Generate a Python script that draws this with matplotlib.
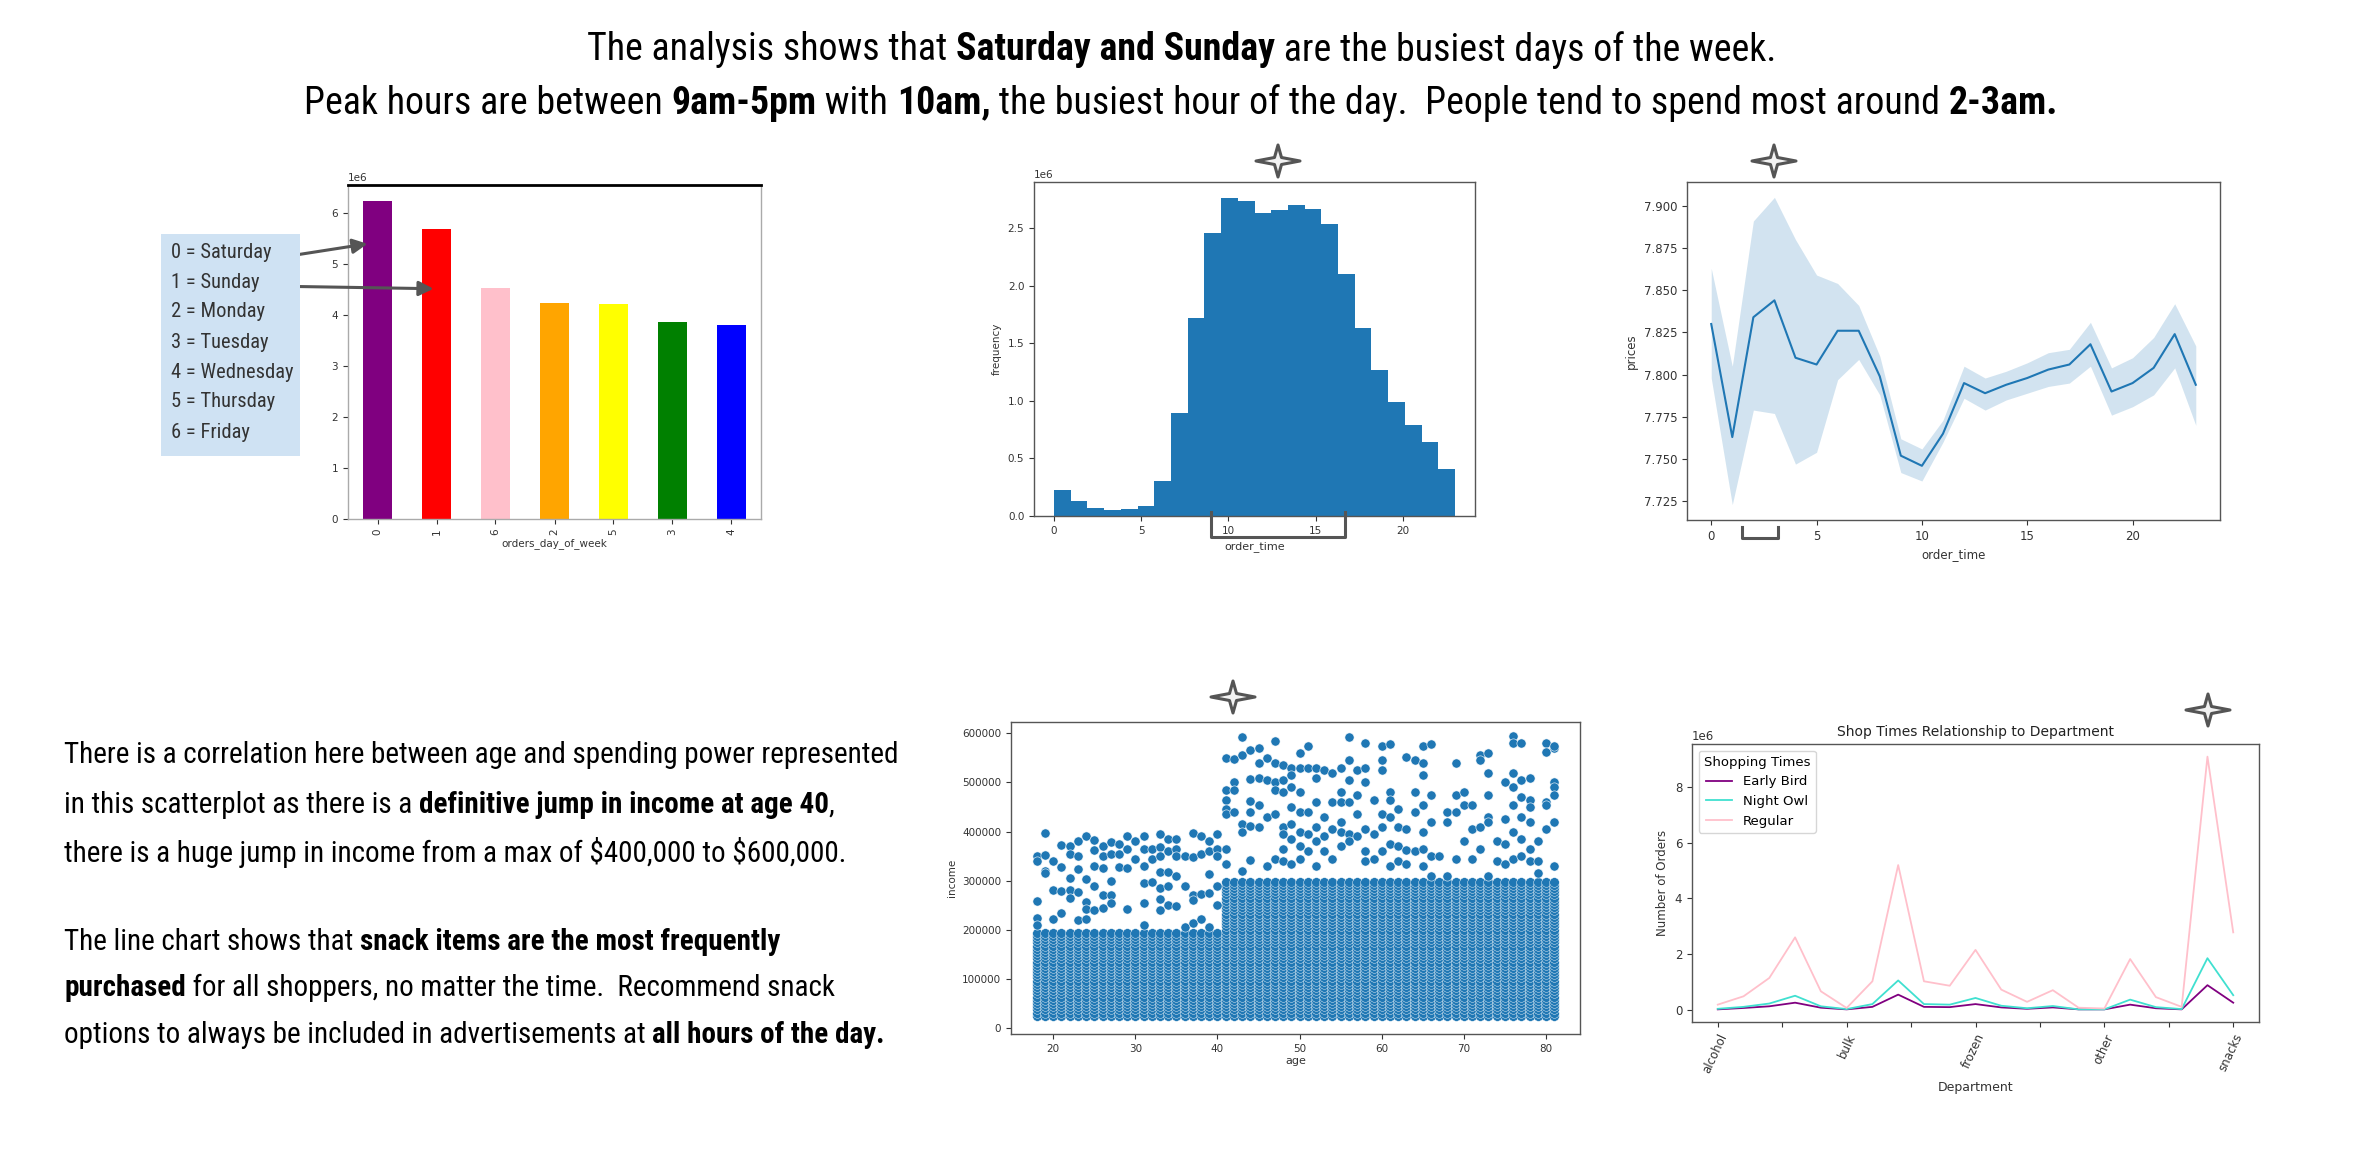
import os
import numpy as np
import matplotlib
matplotlib.use('Agg')
from matplotlib import pyplot as plt
from matplotlib import transforms as mtransforms
from matplotlib import font_manager as fm
from matplotlib.patches import Polygon, Rectangle

W, H = 2368, 1152

# --- data -------------------------------------------------------------
day_labels = ['0', '1', '6', '2', '5', '3', '4']
day_orders = [6230000, 5680000, 4520000, 4230000, 4210000, 3860000, 3790000]
day_colors = ['purple', 'red', 'pink', 'orange', 'yellow', 'green', 'blue']
day_names = ['0 = Saturday', '1 = Sunday', '2 = Monday', '3 = Tuesday',
             '4 = Wednesday', '5 = Thursday', '6 = Friday']

hours = list(range(24))
hour_orders = [228000, 127000, 72000, 55000, 61000, 90000, 303000, 893000,
               1722000, 2462000, 2766000, 2743000, 2636000, 2665000, 2702000,
               2668000, 2540000, 2101000, 1639000, 1269000, 990000, 795000,
               640000, 410000]

price_mean = [7.830, 7.763, 7.834, 7.844, 7.810, 7.806, 7.826, 7.826, 7.799,
              7.752, 7.746, 7.765, 7.795, 7.789, 7.794, 7.798, 7.803, 7.806,
              7.818, 7.790, 7.795, 7.804, 7.824, 7.794]
price_hi = [7.863, 7.805, 7.891, 7.905, 7.880, 7.859, 7.854, 7.841, 7.811,
            7.762, 7.756, 7.773, 7.805, 7.798, 7.802, 7.807, 7.813, 7.815,
            7.831, 7.804, 7.810, 7.822, 7.842, 7.817]
price_lo = [7.798, 7.723, 7.779, 7.777, 7.747, 7.754, 7.797, 7.809, 7.788,
            7.742, 7.737, 7.760, 7.786, 7.779, 7.785, 7.789, 7.793, 7.795,
            7.805, 7.776, 7.781, 7.788, 7.804, 7.770]

# sparse high-income customers (age, income)
sparse_points = [
    (18, 350000), (18, 340000), (18, 258000), (18, 225000), (18, 210000),
    (19, 397000), (19, 352000), (19, 320000), (19, 315000), (20, 340000),
    (20, 222000), (20, 282000), (21, 372000), (21, 328000), (21, 280000),
    (21, 235000), (22, 370000), (22, 355000), (22, 305000), (22, 282000),
    (22, 265000), (23, 380000), (23, 350000), (23, 323000), (23, 278000),
    (23, 220000), (24, 390000), (24, 303000), (24, 257000), (24, 243000),
    (24, 222000), (25, 383000), (25, 363000), (25, 330000), (25, 290000),
    (25, 240000), (26, 370000), (26, 350000), (26, 325000), (26, 270000),
    (26, 245000), (27, 378000), (27, 355000), (27, 300000), (27, 270000),
    (27, 255000), (28, 375000), (28, 355000), (28, 328000), (29, 390000),
    (29, 365000), (29, 325000), (29, 242000), (30, 380000), (30, 345000),
    (31, 390000), (31, 365000), (31, 330000), (31, 295000), (31, 255000),
    (31, 210000), (32, 365000), (32, 345000), (32, 298000), (33, 395000),
    (33, 368000), (33, 350000), (33, 318000), (33, 285000), (33, 262000),
    (33, 240000), (34, 385000), (34, 360000), (34, 318000), (34, 290000),
    (34, 250000), (35, 385000), (35, 365000), (35, 350000), (35, 310000),
    (35, 248000), (36, 350000), (36, 290000), (36, 205000), (37, 398000),
    (37, 348000), (37, 270000), (37, 260000), (37, 213000), (38, 390000),
    (38, 355000), (38, 272000), (38, 222000), (39, 380000), (39, 360000),
    (39, 313000), (39, 275000), (39, 205000), (40, 395000), (40, 365000),
    (40, 350000), (40, 290000), (40, 250000), (41, 365000), (41, 335000),
    (41, 550000), (41, 485000), (41, 465000), (41, 445000), (41, 435000),
    (42, 548000), (42, 500000), (42, 485000), (42, 440000), (43, 592000),
    (43, 555000), (43, 415000), (43, 400000), (43, 320000), (44, 567000),
    (44, 507000), (44, 462000), (44, 440000), (44, 412000), (44, 343000),
    (45, 570000), (45, 540000), (45, 510000), (45, 455000), (45, 410000),
    (46, 550000), (46, 505000), (46, 430000), (46, 330000), (47, 585000),
    (47, 540000), (47, 500000), (47, 485000), (47, 435000), (47, 345000),
    (48, 535000), (48, 505000), (48, 480000), (48, 410000), (48, 395000),
    (48, 365000), (48, 340000), (49, 530000), (49, 515000), (49, 490000),
    (49, 450000), (49, 415000), (49, 385000), (49, 335000), (50, 560000),
    (50, 530000), (50, 480000), (50, 440000), (50, 400000), (50, 370000),
    (50, 345000), (51, 575000), (51, 530000), (51, 440000), (51, 395000),
    (51, 360000), (52, 530000), (52, 510000), (52, 460000), (52, 410000),
    (52, 380000), (52, 330000), (53, 525000), (53, 430000), (53, 390000),
    (53, 360000), (54, 520000), (54, 460000), (54, 405000), (54, 345000),
    (55, 530000), (55, 480000), (55, 460000), (55, 420000), (55, 400000),
    (55, 370000), (56, 592000), (56, 545000), (56, 505000), (56, 460000),
    (56, 395000), (56, 380000), (57, 525000), (57, 475000), (57, 435000),
    (57, 390000), (58, 580000), (58, 530000), (58, 500000), (58, 405000),
    (58, 360000), (58, 340000), (59, 465000), (59, 395000), (59, 345000),
    (60, 575000), (60, 545000), (60, 525000), (60, 435000), (60, 410000),
    (60, 360000), (61, 578000), (61, 480000), (61, 465000), (61, 430000),
    (61, 375000), (61, 330000), (62, 445000), (62, 410000), (62, 370000),
    (62, 340000), (63, 552000), (63, 405000), (63, 362000), (63, 335000),
    (64, 545000), (64, 480000), (64, 440000), (64, 360000), (65, 575000),
    (65, 540000), (65, 515000), (65, 455000), (65, 400000), (65, 365000),
    (65, 330000), (66, 578000), (66, 475000), (66, 420000), (66, 350000),
    (66, 310000), (67, 350000), (68, 440000), (68, 420000), (68, 310000),
    (69, 540000), (69, 475000), (69, 440000), (69, 345000), (70, 480000),
    (70, 455000), (70, 380000), (71, 455000), (71, 405000), (71, 345000),
    (72, 555000), (72, 545000), (72, 410000), (72, 365000), (73, 560000),
    (73, 520000), (73, 475000), (73, 430000), (73, 420000), (73, 310000),
    (74, 380000), (74, 340000), (75, 500000), (75, 425000), (75, 375000),
    (75, 335000), (76, 595000), (76, 580000), (76, 520000), (76, 490000),
    (76, 455000), (76, 400000), (76, 345000), (77, 580000), (77, 505000),
    (77, 470000), (77, 430000), (77, 385000), (77, 350000), (78, 510000),
    (78, 465000), (78, 450000), (78, 420000), (78, 365000), (78, 340000),
    (79, 380000), (79, 340000), (79, 315000), (80, 580000), (80, 562000),
    (80, 460000), (80, 455000), (80, 405000), (81, 570000), (81, 575000),
    (81, 500000), (81, 490000), (81, 475000), (81, 420000), (81, 330000),
]
# dense band of customers: (first age, last age, lowest income, highest income)
dense_bands = [(18, 40, 25000, 195000), (41, 81, 25000, 300000)]

departments = ['alcohol', 'babies', 'bakery', 'beverages', 'breakfast', 'bulk',
               'canned goods', 'dairy eggs', 'deli', 'dry goods pasta', 'frozen',
               'household', 'international', 'meat seafood', 'missing', 'other',
               'pantry', 'personal care', 'pets', 'produce', 'snacks']
early_bird = [10000, 60000, 120000, 250000, 70000, 10000, 100000, 540000,
              100000, 90000, 200000, 80000, 30000, 80000, 10000, 10000, 180000,
              50000, 10000, 880000, 250000]
night_owl = [30000, 100000, 220000, 500000, 120000, 20000, 200000, 1050000,
             200000, 180000, 420000, 140000, 50000, 130000, 10000, 10000, 360000,
             90000, 20000, 1850000, 520000]
regular = [180000, 480000, 1140000, 2600000, 660000, 60000, 1020000, 5200000,
           1020000, 860000, 2150000, 720000, 280000, 700000, 70000, 40000,
           1820000, 450000, 100000, 9100000, 2780000]
shop_names = ['Early Bird', 'Night Owl', 'Regular']
shop_colors = ['purple', 'turquoise', 'pink']


# --- fonts: look for a condensed face for the slide text ----------------
def wnum(w):
    if isinstance(w, (int, float)):
        return int(w)
    return {'normal': 400, 'regular': 400, 'book': 400, 'medium': 500, 'bold': 700}.get(str(w).lower(), 400)


def condensed_fonts():
    tests = [
        lambda f, b: f.name == 'Roboto Condensed',
        lambda f, b: f.name == 'Liberation Sans Narrow',
        lambda f, b: b.startswith('NotoSans-Condensed'),
        lambda f, b: b.startswith('DejaVuSansCondensed'),
        lambda f, b: 'condensed' in b.lower() or 'narrow' in b.lower(),
    ]
    for test in tests:
        cands = [f for f in fm.fontManager.ttflist
                 if test(f, os.path.basename(f.fname)) and f.style == 'normal']
        reg = [f for f in cands if wnum(f.weight) == 400]
        bold = [f for f in cands if wnum(f.weight) == 700]
        if reg and bold:
            return fm.FontProperties(fname=reg[0].fname), fm.FontProperties(fname=bold[0].fname)
    return fm.FontProperties(family='DejaVu Sans'), fm.FontProperties(family='DejaVu Sans', weight='bold')


FONT_REG, FONT_BOLD = condensed_fonts()

# --- helpers ----------------------------------------------------------
fig = plt.figure(figsize=(W / 100, H / 100), dpi=100)
fig.patch.set_facecolor('white')
renderer = fig.canvas.get_renderer()


def add_px(left, top, right, bottom):
    return fig.add_axes([left / W, 1 - bottom / H, (right - left) / W, (bottom - top) / H])


def fprop(bold, size):
    fp = (FONT_BOLD if bold else FONT_REG).copy()
    fp.set_size(size)
    return fp


def text_width(s, bold, size):
    a = fig.text(0, 0, s + '|', fontproperties=fprop(bold, size), parse_math=False)
    b = fig.text(0, 0, '|', fontproperties=fprop(bold, size), parse_math=False)
    w = a.get_window_extent(renderer).width - b.get_window_extent(renderer).width
    a.remove()
    b.remove()
    return w


def line_width(parts, size):
    return sum(text_width(s, bold, size) for s, bold in parts)


def fit_size(parts, target):
    return 20 * target / line_width(parts, 20)


def rich_line(x, y, parts, size, center=False, color='black'):
    widths = [text_width(s, bold, size) for s, bold in parts]
    x0 = x - sum(widths) / 2 if center else x
    for (s, bold), w in zip(parts, widths):
        fig.text(x0 / W, 1 - y / H, s, fontproperties=fprop(bold, size), color=color,
                 va='center', ha='left', parse_math=False)
        x0 += w


def style_axes(ax, size):
    ax.tick_params(labelsize=size, colors='#333333', length=3.5, width=0.8)
    for sp in ax.spines.values():
        sp.set_color('#555555')
        sp.set_linewidth(1.0)
    ax.yaxis.get_offset_text().set_fontsize(size)


# --- headline ---------------------------------------------------------
head1 = [('The analysis shows that ', False), ('Saturday and Sunday', True),
         (' are the busiest days of the week.', False)]
head2 = [('Peak hours are between ', False), ('9am-5pm', True), (' with ', False), ('10am,', True),
         (' the busiest hour of the day.  People tend to spend most around ', False), ('2-3am.', True)]
head_size = (fit_size(head1, 1193) + fit_size(head2, 1740)) / 2
rich_line(1182, 50, head1, head_size, center=True)
rich_line(1181, 103, head2, head_size, center=True)

# --- orders per day of week -------------------------------------------
ax_bar = add_px(348, 185, 761, 519)
ax_bar.bar(range(len(day_orders)), day_orders, width=0.5, color=day_colors)
ax_bar.set_xlim(-0.5, len(day_orders) - 0.5)
ax_bar.set_xticks(range(len(day_orders)))
ax_bar.set_xticklabels(day_labels, rotation=90)
ax_bar.set_xlabel('orders_day_of_week', fontsize=7.5, color='#333333', labelpad=2)
style_axes(ax_bar, 7.5)
for sp in ['left', 'bottom', 'right']:
    ax_bar.spines[sp].set_color('#aaaaaa')
ax_bar.spines['top'].set_color('black')
ax_bar.spines['top'].set_linewidth(2)

# day name key, with arrows to the two busiest days
fig.patches.append(Rectangle((161 / W, 1 - 456 / H), 139 / W, 222 / H, transform=fig.transFigure,
                             facecolor='#cfe2f3', edgecolor='none', zorder=0))
key_size = fit_size([('4 = Wednesday', False)], 122)
for i, name in enumerate(day_names):
    rich_line(171, 252 + 30 * i, [(name, False)], key_size, color='#333333')
arrow_style = dict(arrowstyle='-|>', color='#555555', lw=2.2, mutation_scale=22, shrinkA=0, shrinkB=0)
ax_bar.annotate('', xy=(-0.17, 5390000), xycoords='data', xytext=(270, H - 259),
                textcoords='figure pixels', arrowprops=arrow_style, annotation_clip=False)
ax_bar.annotate('', xy=(0.95, 4510000), xycoords='data', xytext=(266, H - 286),
                textcoords='figure pixels', arrowprops=arrow_style, annotation_clip=False)

# --- order hour histogram ---------------------------------------------
ax_hist = add_px(1034, 182, 1475, 516)
ax_hist.hist(hours, bins=24, weights=hour_orders, color='#1f77b4')
ax_hist.set_xlabel('order_time', fontsize=8, color='#333333')
ax_hist.set_ylabel('frequency', fontsize=7.5, color='#333333')
ax_hist.set_xticks([0, 5, 10, 15, 20])
style_axes(ax_hist, 7.5)
blend = mtransforms.blended_transform_factory(ax_hist.transData, ax_hist.transAxes)
ax_hist.plot([9.0, 9.0, 16.67, 16.67], [0.012, -0.063, -0.063, 0.012], transform=blend,
             clip_on=False, color='#555555', lw=2.2, solid_joinstyle='round')

# --- price by hour ----------------------------------------------------
ax_line = add_px(1687, 182, 2220, 520)
ax_line.fill_between(hours, price_lo, price_hi, color='#1f77b4', alpha=0.2, lw=0)
ax_line.plot(hours, price_mean, color='#1f77b4', lw=1.5)
ax_line.set_xlabel('order_time', fontsize=8.5, color='#333333')
ax_line.set_ylabel('prices', fontsize=8.5, color='#333333')
ax_line.set_xticks([0, 5, 10, 15, 20])
style_axes(ax_line, 8.5)
blend = mtransforms.blended_transform_factory(ax_line.transData, ax_line.transAxes)
ax_line.plot([1.45, 1.45, 3.15, 3.15], [-0.02, -0.053, -0.053, -0.02], transform=blend,
             clip_on=False, color='#555555', lw=2.2)

# --- age vs income scatter --------------------------------------------
ax_sc = add_px(1011, 722, 1580, 1034)
for a0, a1, lo, hi in dense_bands:
    for age in range(a0, a1 + 1):
        inc = np.arange(lo, hi + 1, 6500)
        ax_sc.scatter(np.full(len(inc), age), inc, s=48, color='#1f77b4',
                      edgecolor='white', linewidth=0.3)
ax_sc.scatter([p[0] for p in sparse_points], [p[1] for p in sparse_points], s=44,
              color='#1f77b4', edgecolor='white', linewidth=0.4)
ax_sc.set_ylim(-12000, 623000)
ax_sc.set_yticks(range(0, 600001, 100000))
ax_sc.set_xticks([20, 30, 40, 50, 60, 70, 80])
ax_sc.set_xlabel('age', fontsize=8, color='#333333', labelpad=2)
ax_sc.set_ylabel('income', fontsize=7.5, color='#333333')
style_axes(ax_sc, 7.5)

# --- department lines -------------------------------------------------
ax_dep = add_px(1692, 744, 2259, 1022)
x_dep = np.arange(len(departments))
for vals, name, c in zip([early_bird, night_owl, regular], shop_names, shop_colors):
    ax_dep.plot(x_dep, vals, color=c, lw=1.3, label=name)
ax_dep.set_xlim(-1, len(departments))
ticks = np.arange(0, len(departments), 2.5)
ax_dep.set_xticks(ticks)
ax_dep.set_xticklabels([departments[int(t)] if t % 5 == 0 else '' for t in ticks],
                       rotation=65, ha='right', rotation_mode='anchor')
ax_dep.set_title('Shop Times Relationship to Department', fontsize=10, color='#222222', pad=6)
ax_dep.set_xlabel('Department', fontsize=9, color='#333333')
ax_dep.set_ylabel('Number of Orders', fontsize=8.5, color='#333333')
style_axes(ax_dep, 8.5)
ax_dep.legend(title='Shopping Times', loc='upper left', fontsize=9.5, title_fontsize=9.5)

# --- left commentary --------------------------------------------------
body = [
    [('There is a correlation here between age and spending power represented', False)],
    [('in this scatterplot as there is a ', False), ('definitive jump in income at age 40', True), (',', False)],
    [('there is a huge jump in income from a max of $400,000 to $600,000.', False)],
    [('The line chart shows that ', False), ('snack items are the most frequently', True)],
    [('purchased', True), (' for all shoppers, no matter the time.  Recommend snack', False)],
    [('options to always be included in advertisements at ', False), ('all hours of the day.', True)],
]
body_size = fit_size(body[0], 831)
for parts, y in zip(body, [755, 805, 852, 942, 988, 1035]):
    rich_line(64, y, parts, body_size)

# --- decorative stars -------------------------------------------------
ov = fig.add_axes([0, 0, 1, 1], zorder=10)
ov.set_xlim(0, W)
ov.set_ylim(H, 0)
ov.axis('off')
ov.patch.set_alpha(0)
star_shape = np.array([(0, -16), (3.5, -3.5), (22, 0), (3.5, 3.5), (0, 16), (-3.5, 3.5), (-22, 0), (-3.5, -3.5)])
for cx, cy in [(1278, 161), (1774, 161), (1233, 697), (2208, 710)]:
    ov.add_patch(Polygon(star_shape + [cx, cy], closed=True, facecolor='#f2f2f2',
                         edgecolor='#555555', lw=2.2, joinstyle='round'))

fig.savefig('out.png', dpi=100)
